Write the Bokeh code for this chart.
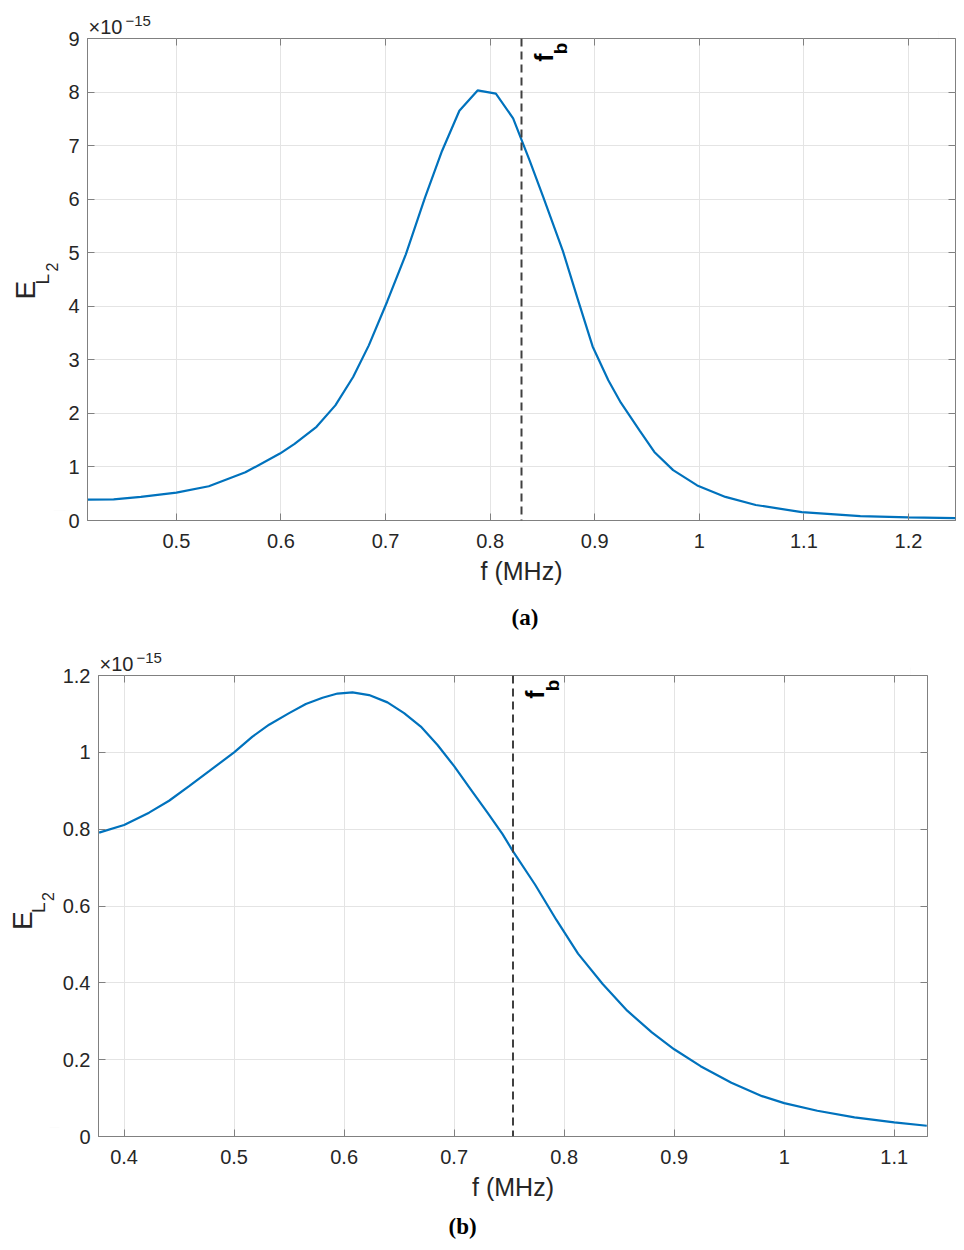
from bokeh.plotting import figure
from bokeh.models import Range1d, LinearAxis, FixedTicker, CustomJSTickFormatter, Label, Span, Title
from bokeh.embed import file_html
from bokeh.resources import INLINE

# ---------------- data (values in units of 1e-15) ----------------
f_a = [0.415, 0.44, 0.466, 0.5, 0.531, 0.566, 0.599, 0.613, 0.634, 0.652, 0.669,
       0.684, 0.7016, 0.7194, 0.7377, 0.754, 0.7706, 0.788, 0.8055, 0.822, 0.838,
       0.851, 0.8696, 0.884, 0.898, 0.913, 0.925, 0.943, 0.957, 0.975, 0.998,
       1.025, 1.054, 1.098, 1.154, 1.2, 1.245]
e_a = [0.39, 0.395, 0.44, 0.52, 0.64, 0.9, 1.25, 1.43, 1.75, 2.15, 2.68,
       3.27, 4.09, 4.97, 6.03, 6.9, 7.65, 8.03, 7.97, 7.51, 6.71,
       6.03, 5.03, 4.12, 3.25, 2.62, 2.2, 1.68, 1.28, 0.94, 0.655,
       0.44, 0.29, 0.156, 0.08, 0.06, 0.045]
fb_a = 0.83

f_b = [0.3773, 0.4, 0.4227, 0.4409, 0.4591, 0.4773, 0.5, 0.5167, 0.5318, 0.55,
       0.5652, 0.5804, 0.594, 0.6076, 0.6227, 0.6394, 0.6545, 0.6697, 0.6849, 0.7,
       0.7152, 0.7303, 0.744, 0.7531, 0.7735, 0.7931, 0.8126, 0.835, 0.8573, 0.8797,
       0.9, 0.924, 0.952, 0.9799, 1.0, 1.0301, 1.0639, 1.1, 1.1296]
e_b = [0.791, 0.811, 0.843, 0.874, 0.912, 0.951, 1.0, 1.041, 1.072, 1.102,
       1.126, 1.142, 1.153, 1.156, 1.149, 1.130, 1.102, 1.067, 1.019, 0.964,
       0.903, 0.843, 0.787, 0.744, 0.656, 0.563, 0.476, 0.397, 0.3275, 0.271,
       0.227, 0.183, 0.14, 0.105, 0.087, 0.067, 0.05, 0.037, 0.028]
fb_b = 0.7535

xticks_a = [0.5, 0.6, 0.7, 0.8, 0.9, 1.0, 1.1, 1.2]
yticks_a = [0, 1, 2, 3, 4, 5, 6, 7, 8, 9]
xticks_b = [0.4, 0.5, 0.6, 0.7, 0.8, 0.9, 1.0, 1.1]
yticks_b = [0, 0.2, 0.4, 0.6, 0.8, 1.0, 1.2]

xlabel = "f (MHz)"
exp_parts = ["\u00d710", "\u221215"]
ylabel_parts = ["E", "L", "2"]
fb_parts = ["f", "b"]
captions = ["(a)", "(b)"]

FONT = "Liberation Sans"
AX = "#808080"
TXT = "#262626"
BLUE = "#0072BD"


def spacer(size, tick):
    # an empty axis used only to reserve room in a side panel
    return LinearAxis(ticker=FixedTicker(ticks=[tick]), axis_line_color=None,
                      major_tick_line_color="black", major_tick_line_alpha=0.01,
                      minor_tick_line_color=None, major_label_text_color=None,
                      major_label_standoff=0, major_tick_in=0, major_tick_out=size)


def make_panel(f, e, fb, xt, yt, xr, yr, fw, fh, left, top, right, bottom,
               caption, cap_off, cap_std, gap, ylab_off):
    p = figure(frame_width=fw, frame_height=fh, output_backend="svg",
               toolbar_location=None, x_range=Range1d(*xr), y_range=Range1d(*yr),
               min_border_left=left, min_border_right=right, min_border_top=top,
               min_border_bottom=bottom, background_fill_color="white",
               border_fill_color="white")
    p.outline_line_color = AX
    p.outline_line_width = 1
    fmt = CustomJSTickFormatter(code="return String(Math.round(tick*1000)/1000);")
    for ax, ticks in ((p.xaxis[0], xt), (p.yaxis[0], yt)):
        ax.ticker = FixedTicker(ticks=ticks)
        ax.formatter = fmt
        ax.axis_line_color = AX
        ax.major_tick_line_color = AX
        ax.major_tick_in = 7
        ax.major_tick_out = 0
        ax.minor_tick_line_color = None
        ax.major_label_text_font = FONT
        ax.major_label_text_font_size = "20px"
        ax.major_label_text_color = TXT
    p.xaxis[0].major_label_standoff = 13
    p.yaxis[0].major_label_standoff = 8
    p.xaxis[0].axis_label = xlabel
    p.xaxis[0].axis_label_text_font = FONT
    p.xaxis[0].axis_label_text_font_size = "25px"
    p.xaxis[0].axis_label_text_font_style = "normal"
    p.xaxis[0].axis_label_text_color = TXT
    p.xaxis[0].axis_label_standoff = 6
    # mirrored ticks on top and right
    for loc, ticks in (("above", xt), ("right", yt)):
        a = LinearAxis(ticker=FixedTicker(ticks=ticks), axis_line_color=None,
                       major_tick_line_color=AX, major_tick_in=7, major_tick_out=0,
                       minor_tick_line_color=None, major_label_text_color=None,
                       major_label_standoff=0)
        p.add_layout(a, loc)
    p.xgrid.ticker = FixedTicker(ticks=xt)
    p.ygrid.ticker = FixedTicker(ticks=yt)
    p.grid.grid_line_color = "#e4e4e4"
    p.grid.grid_line_width = 1

    p.line(f, e, line_color=BLUE, line_width=2.2)
    p.add_layout(Span(location=fb, dimension="height", line_color="#404040",
                      line_width=2, line_dash="8 5"))

    # y label E_{L_2}: rotated titles stacked outward from the tick labels
    p.add_layout(spacer(gap, yr[0] + 0.02 * (yr[1] - yr[0])), "left")
    half = fh / 2
    for txt, sz, std, off in ((ylabel_parts[2], "16px", -8, half + ylab_off[2]),
                              (ylabel_parts[1], "19px", -10, half + ylab_off[1]),
                              (ylabel_parts[0], "28px", ylab_off[3], half + ylab_off[0])):
        p.add_layout(Title(text=txt, align="left", offset=off, standoff=std,
                           text_font=FONT, text_font_size=sz, text_font_style="normal",
                           text_color=TXT), "left")

    # exponent marker x10^-15
    p.add_layout(spacer(8, xr[1] - 0.02 * (xr[1] - xr[0])), "above")
    p.add_layout(Title(text=exp_parts[0], align="left", offset=1, standoff=-14,
                       text_font=FONT, text_font_size="20px", text_font_style="normal",
                       text_color=TXT), "above")
    p.add_layout(Title(text=exp_parts[1], align="left", offset=38, standoff=-10,
                       text_font=FONT, text_font_size="15px", text_font_style="normal",
                       text_color=TXT), "above")

    # f_b marker
    xpx = (fb - xr[0]) / (xr[1] - xr[0]) * fw
    p.add_layout(Label(x=xpx + 22, y=fh - 19, x_units="screen", y_units="screen",
                       text=fb_parts[0], angle=1.5708, text_font=FONT,
                       text_font_size="25px", text_font_style="bold", text_color="black",
                       text_align="center", text_baseline="middle"))
    p.add_layout(Label(x=xpx + 39, y=fh - 10, x_units="screen", y_units="screen",
                       text=fb_parts[1], angle=1.5708, text_font=FONT,
                       text_font_size="19px", text_font_style="bold", text_color="black",
                       text_align="center", text_baseline="middle"))
    # caption
    p.add_layout(Title(text=caption, align="left", text_font="Liberation Serif",
                       text_font_size="23px", text_font_style="bold", text_color="black",
                       standoff=cap_std, offset=cap_off), "below")
    return p


pa = make_panel(f_a, e_a, fb_a, xticks_a, yticks_a, (0.415, 1.245), (0, 9),
                868, 482, 87, 38, 9, 125, captions[0], 424, 30, 12,
                (-20, -5, 8, -12))
pb = make_panel(f_b, e_b, fb_b, xticks_b, yticks_b, (0.37675, 1.13025), (0, 1.2),
                829, 461, 98, 30, 37, 108, captions[1], 350, 16, 10,
                (-24, -7, 5, -14))

open("out.html", "w").write(file_html([pa, pb], INLINE))
